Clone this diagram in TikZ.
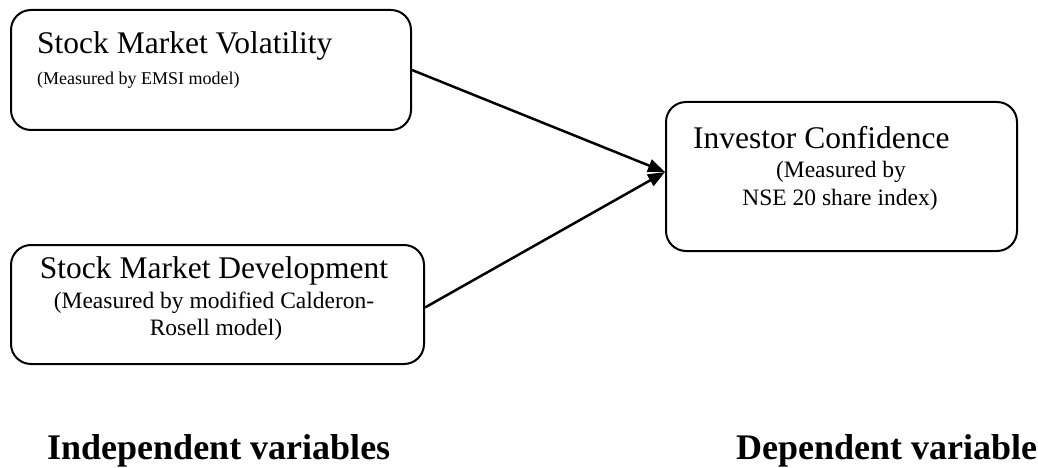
\documentclass[tikz,border=0pt]{standalone}
\usepackage{fontspec}
\setmainfont{Liberation Serif}
\usetikzlibrary{arrows.meta}
\begin{document}
\begin{tikzpicture}[x=1pt,y=-1pt,
  box/.style={draw=black,line width=2pt,rounded corners=20pt,inner sep=0pt,fill=white},
  main/.style={inner sep=0pt,font=\fontsize{31.5}{36}\selectfont},
  subA/.style={inner sep=0pt,font=\fontsize{18}{22}\selectfont},
  subB/.style={inner sep=0pt,font=\fontsize{23.5}{28}\selectfont},
  lab/.style={inner sep=0pt,anchor=base west,font=\fontsize{36}{40}\selectfont\bfseries},
  conn/.style={line width=2.5pt,-{Triangle[length=17pt,width=13pt]}}]
\useasboundingbox[fill=white] (0,0) rectangle (1038,468);
\node[box,minimum width=400pt,minimum height=120pt] (b1) at (211,70) {};
\node[box,minimum width=413pt,minimum height=119pt] (b2) at (217.5,304.5) {};
\node[box,minimum width=351pt,minimum height=149pt] (b3) at (841.5,176.5) {};
\node[main,anchor=base west] (t1) at (37,54) {Stock Market Volatility};
\node[subA,anchor=base west] (s1) at (37,85) {(Measured by EMSI model)};
\node[main,anchor=base] (t2) at (214,278) {Stock Market Development};
\node[subB,anchor=base] (s2a) at (214,308) {(Measured by modified Calderon-};
\node[subB,anchor=base] (s2b) at (216,335) {Rosell model)};
\node[main,anchor=base west] (t3) at (693,148) {Investor Confidence};
\node[subB,anchor=base] (s3a) at (841,177) {(Measured by};
\node[subB,anchor=base] (s3b) at (840,205) {NSE 20 share index)};
\node[lab] (l1) at (47,459) {Independent variables};
\node[lab] (l2) at (736,459) {Dependent variable};
\coordinate (tip) at (665,172);
\draw[conn] (b1.east) -- (tip);
\draw[conn] ([yshift=-3pt]b2.east) -- (tip);
\end{tikzpicture}
\end{document}
